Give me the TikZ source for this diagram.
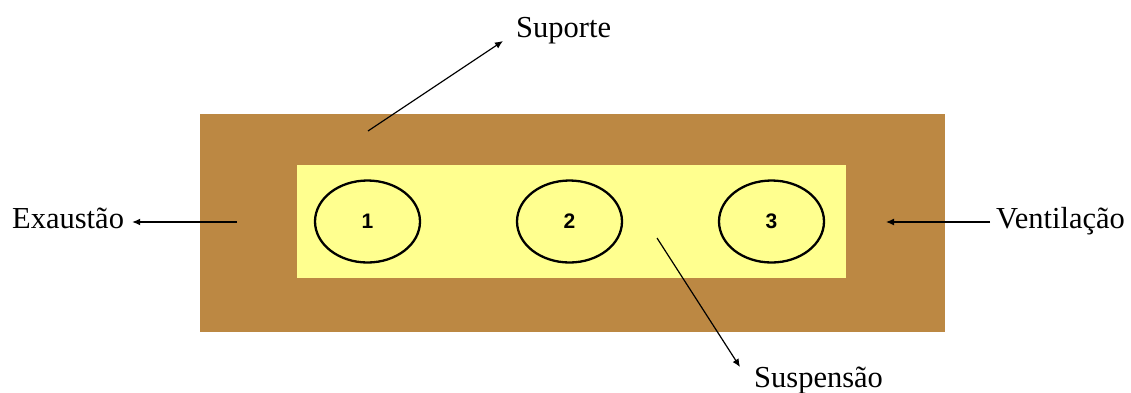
\documentclass[tikz,border=0pt]{standalone}
\usepackage{fontspec}
\setmainfont{Liberation Serif}
\newfontfamily\numfont{Liberation Sans}
\usetikzlibrary{arrows.meta,shapes.geometric}
\definecolor{frame}{RGB}{188,136,67}
\definecolor{core}{RGB}{255,255,143}
\tikzset{
  box/.style={draw=none,inner sep=0,outer sep=0,anchor=north west},
  cell/.style={ellipse,draw=black,line width=2.3pt,fill=core,minimum width=105pt,minimum height=82pt,inner sep=0,
    font=\numfont\bfseries\fontsize{21}{24}\selectfont},
  label/.style={inner sep=0,anchor=base west,font=\fontsize{30.5}{36}\selectfont},
  pointer/.style={line width=1.2pt,-{Latex[length=8pt,width=7pt]}}
}
\newcommand{\cellnum}[1]{\raisebox{-3pt}{#1}}
\begin{document}
\begin{tikzpicture}[x=1pt,y=-1pt]
\useasboundingbox (0,0) rectangle (1131,392);
% outer support and inner suspension area
\node[box,fill=frame,minimum width=745pt,minimum height=218pt] (outer) at (200,114) {};
\node[box,fill=core,minimum width=549pt,minimum height=113pt] (inner) at (297,165) {};
% the three cells
\node[cell] (c1) at (367.5,221.5) {\cellnum{1}};
\node[cell] (c2) at (569.5,221.5) {\cellnum{2}};
\node[cell] (c3) at (771.5,221.5) {\cellnum{3}};
% labels
\node[label] (exa) at (12,228) {Exaustão};
\node[label] (sup) at (516,37) {Suporte};
\node[label] (susp) at (754,387) {Suspensão};
\node[label] (ven) at (996,228) {Ventilação};
% pointer origins
\coordinate (exaS) at (237,222);
\coordinate (supS) at (368,131);
\coordinate (suspS) at (657,238);
\coordinate (venS) at (990,222);
% pointers
\draw[pointer,shorten >=8pt] (exaS) -- (exaS -| exa.east);
\draw[pointer] (venS) -- (886,222);
\draw[pointer] (supS) -- ([xshift=-13pt,yshift=-4pt]sup.base west);
\draw[pointer] (suspS) -- ([xshift=-14pt,yshift=20pt]susp.base west);
\end{tikzpicture}
\end{document}
